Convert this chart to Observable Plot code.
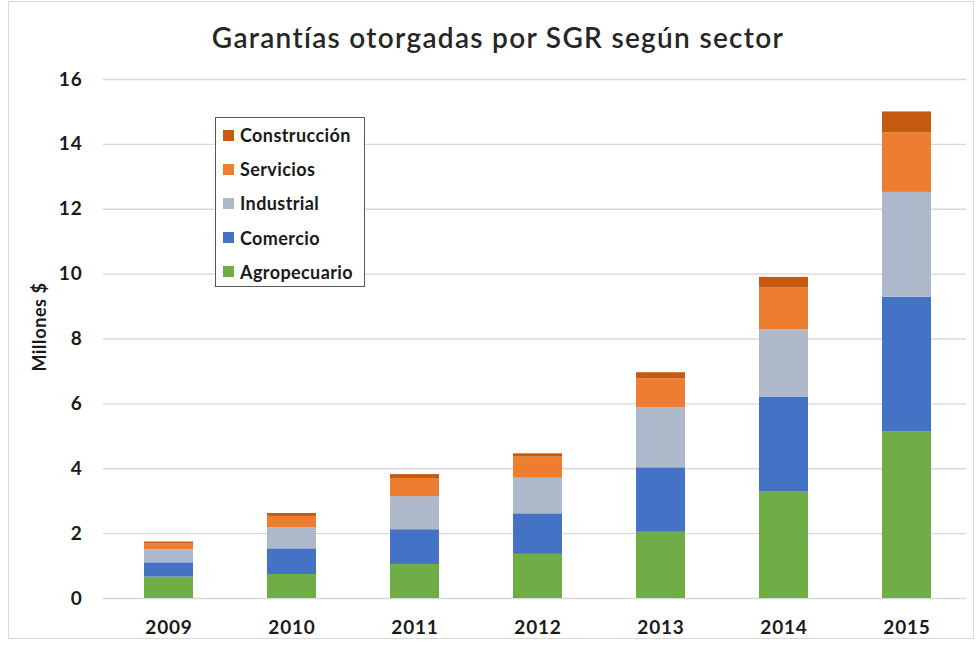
<!DOCTYPE html>
<html>
<head>
<meta charset="utf-8">
<script src="https://cdn.jsdelivr.net/npm/d3@7"></script>
<script src="https://cdn.jsdelivr.net/npm/@observablehq/plot@0.6"></script>
<style>
  html, body { margin: 0; padding: 0; background: #fff; }
  #wrap { position: relative; width: 980px; height: 645px; overflow: hidden; font-family: Lato, "Open Sans", sans-serif; }
  #frame { position: absolute; left: 8px; top: 1px; width: 964px; height: 636px; border: 1px solid #d9d9d9; pointer-events: none; }
  #title { position: absolute; left: 0; top: 20px; width: 996px; text-align: center; font-size: 28px; color: #262626; font-weight: 600; letter-spacing: 1.3px; }
  #chart { position: absolute; left: 0; top: 60px; }
  #chart g[aria-label="y-axis label"] { font-size: 18px; letter-spacing: 0.6px; }
  #chart g[aria-label="x-axis tick label"], #chart g[aria-label="y-axis tick label"] { letter-spacing: 0.8px; }
  #legend { position: absolute; left: 215px; top: 117px; width: 150px; height: 170px; border: 1px solid #595959; background: #fff; box-sizing: border-box; padding-top: 0px; }
  .item { display: flex; align-items: center; height: 34.2px; font-size: 18px; font-weight: 700; color: #1a1a1a; letter-spacing: 0.4px; }
  .sw { width: 11px; height: 11px; margin-left: 7px; margin-right: 6px; }
</style>
</head>
<body>
<div id="wrap">
  <div id="frame"></div>
  <div id="title">Garantías otorgadas por SGR según sector</div>
  <div id="chart"></div>
  <div id="legend"></div>
</div>
<script>
const years = ["2009", "2010", "2011", "2012", "2013", "2014", "2015"];
const sectors = ["Agropecuario", "Comercio", "Industrial", "Servicios", "Construcción"];
const colors = ["#70AD47", "#4472C4", "#ADB9CA", "#ED7D31", "#C55A11"];
const agropecuario = [0.66, 0.74, 1.05, 1.36, 2.04, 3.28, 5.13];
const comercio     = [0.44, 0.79, 1.07, 1.25, 1.99, 2.93, 4.16];
const industrial   = [0.40, 0.65, 1.02, 1.10, 1.85, 2.07, 3.23];
const servicios    = [0.19, 0.35, 0.56, 0.65, 0.89, 1.29, 1.84];
const construccion = [0.05, 0.09, 0.12, 0.10, 0.19, 0.33, 0.64];
const yTicks = [0, 2, 4, 6, 8, 10, 12, 14, 16];

const series = [agropecuario, comercio, industrial, servicios, construccion];
const data = [];
sectors.forEach((s, i) => years.forEach((y, j) => data.push({year: y, sector: s, value: series[i][j]})));

const chart = Plot.plot({
  width: 980,
  height: 585,
  marginLeft: 105,
  marginRight: 10,
  marginTop: 19,
  marginBottom: 47,
  style: { fontFamily: "Lato, 'Open Sans', sans-serif", fontSize: "19px", fontWeight: "700", color: "#1a1a1a", background: "transparent" },
  x: { domain: years, paddingInner: 0.6, paddingOuter: 0.3, tickSize: 0, tickPadding: 22, label: null },
  y: { domain: [0, 16], ticks: yTicks, tickSize: 0, tickPadding: 23, label: "Millones $", labelAnchor: "center", labelOffset: 72, labelArrow: "none", grid: false },
  color: { domain: sectors, range: colors },
  marks: [
    Plot.ruleY(yTicks, { stroke: "#d9d9d9", strokeWidth: 1.3 }),
    Plot.barY(data, { x: "year", y: "value", fill: "sector", order: sectors }),
  ]
});
// Extend gridlines horizontally across the frame
chart.querySelectorAll("[aria-label='rule'] line").forEach(l => { l.setAttribute("x1", 103); l.setAttribute("x2", 966); });
// Nudge the y-axis title slightly upward, as in the reference
const yl = chart.querySelector("g[aria-label='y-axis label']");
if (yl) {
  const wrapG = document.createElementNS("http://www.w3.org/2000/svg", "g");
  wrapG.setAttribute("transform", "translate(0,-12)");
  yl.parentNode.insertBefore(wrapG, yl);
  wrapG.appendChild(yl);
}
document.getElementById("chart").appendChild(chart);

const legend = document.getElementById("legend");
sectors.slice().reverse().forEach((s) => {
  const i = sectors.indexOf(s);
  const d = document.createElement("div");
  d.className = "item";
  d.innerHTML = `<span class="sw" style="background:${colors[i]}"></span><span>${s}</span>`;
  legend.appendChild(d);
});
</script>
</body>
</html>
